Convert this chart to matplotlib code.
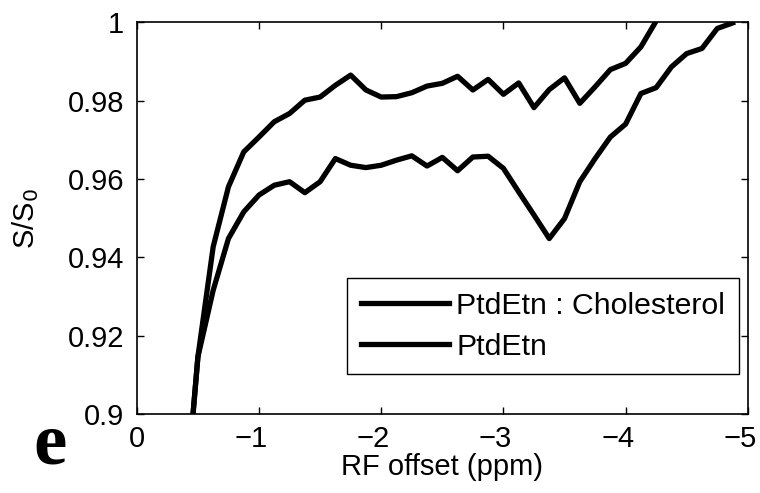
import matplotlib.pyplot as plt
import matplotlib.transforms as mtransforms

plt.rcParams['font.family'] = ['Liberation Sans', 'DejaVu Sans']

# RF offsets (ppm), sampled every 0.125 ppm
offset = [-0.375, -0.5, -0.625, -0.75, -0.875, -1.0, -1.125, -1.25, -1.375, -1.5,
          -1.625, -1.75, -1.875, -2.0, -2.125, -2.25, -2.375, -2.5, -2.625, -2.75,
          -2.875, -3.0, -3.125, -3.25, -3.375, -3.5, -3.625, -3.75, -3.875, -4.0,
          -4.125, -4.25, -4.375, -4.5, -4.625, -4.75, -4.875]

# PtdEtn : Cholesterol
chol = [0.869, 0.9146, 0.9427, 0.958, 0.9669, 0.9707, 0.9746, 0.9767, 0.9801, 0.9809,
        0.9839, 0.9865, 0.9827, 0.9809, 0.9810, 0.9820, 0.9837, 0.9844, 0.9862, 0.9827,
        0.9854, 0.9816, 0.9845, 0.9782, 0.9828, 0.9858, 0.9793, 0.9835, 0.9879, 0.9895,
        0.9937, 1.0003, 1.007, 1.012, 1.016, 1.02, 1.024]

# PtdEtn
ptd = [0.869, 0.9146, 0.9316, 0.9448, 0.9516, 0.9559, 0.9584, 0.9593, 0.9565, 0.9593,
       0.9652, 0.9635, 0.9629, 0.9635, 0.9648, 0.9659, 0.9633, 0.9655, 0.9621, 0.9656,
       0.9658, 0.9627, 0.9567, 0.9508, 0.9448, 0.9499, 0.9593, 0.9652, 0.9707, 0.9740,
       0.9818, 0.9833, 0.9886, 0.9920, 0.9933, 0.9984, 0.9998]

xticks = [0, -1, -2, -3, -4, -5]
yticks = [0.9, 0.92, 0.94, 0.96, 0.98, 1.0]
ytick_labels = ['0.9', '0.92', '0.94', '0.96', '0.98', '1']

fig = plt.figure(figsize=(7.6, 4.93), dpi=100)
ax = fig.add_axes([0.180, 0.160, 0.804, 0.795])

ax.plot(offset, chol, color='black', lw=3.8, label='PtdEtn : Cholesterol')
ax.plot(offset, ptd, color='black', lw=3.8, label='PtdEtn')

ax.set_xlim(0, -5)
ax.set_ylim(0.9, 1.0)
ax.set_xticks(xticks)
ax.set_yticks(yticks)
ax.set_yticklabels(ytick_labels)
ax.tick_params(direction='in', top=True, right=True, length=5, width=1,
               labelsize=21)
ax.tick_params(axis='x', pad=8)
ax.tick_params(axis='y', pad=9)
for s in ax.spines.values():
    s.set_linewidth(1.2)

# matlab style: digit centred on the tick, minus sign hangs to the left
shift = mtransforms.ScaledTranslation(-8 / 100, 0, fig.dpi_scale_trans)
for t, lab in zip(xticks, ax.get_xticklabels()):
    if t < 0:
        lab.set_transform(lab.get_transform() + shift)

ax.set_xlabel('RF offset (ppm)', fontsize=21, labelpad=0)
ax.set_ylabel('S/S$_0$', fontsize=21, labelpad=19)

leg = ax.legend(loc='lower right', bbox_to_anchor=(0.985, 0.102), borderaxespad=0,
                fontsize=21.8, handlelength=2.9, labelspacing=0.42, fancybox=False,
                framealpha=1, edgecolor='black', borderpad=0.45, handletextpad=0.25)
leg.get_frame().set_linewidth(1.0)

fig.text(0.066, 0.097, 'e', fontsize=54, fontweight='bold',
         family='Liberation Serif', ha='center', va='center')

fig.savefig('out.png', dpi=100)
